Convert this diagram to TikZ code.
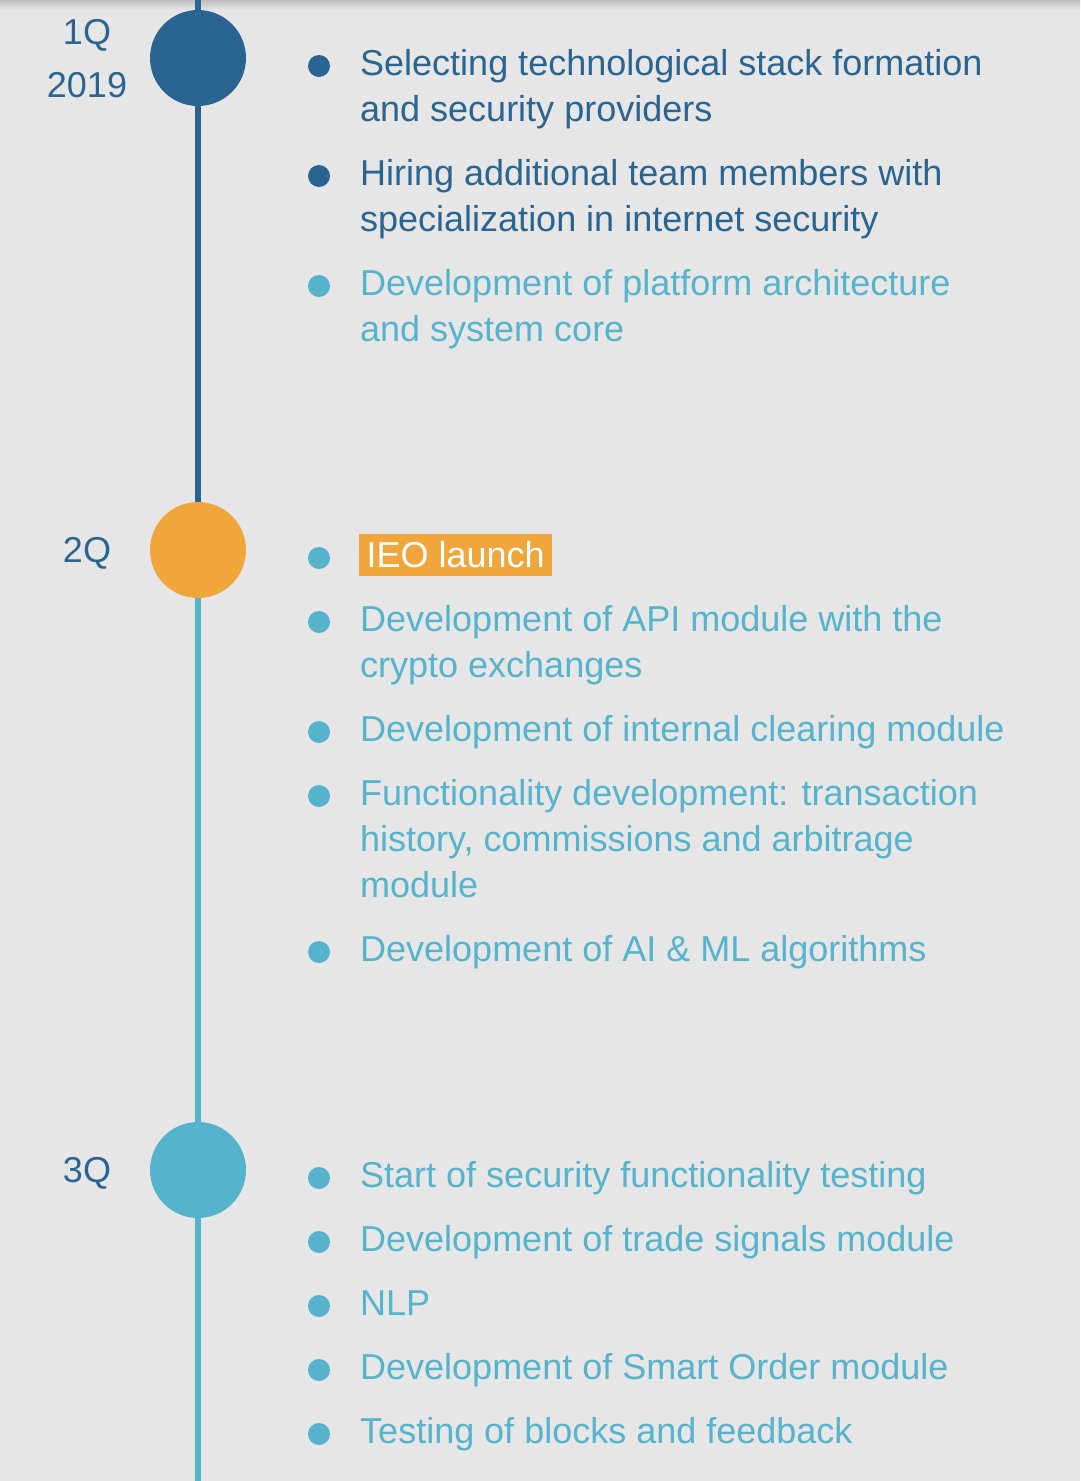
\documentclass[tikz,border=0pt]{standalone}
\usepackage{fontspec}
\setmainfont{Liberation Sans}
\definecolor{stageDark}{RGB}{42,100,144}
\definecolor{stageLight}{RGB}{85,179,203}
\definecolor{stageOrange}{RGB}{240,166,58}
\definecolor{paper}{RGB}{230,230,230}
\usetikzlibrary{positioning}
% fixed height of the first line, so that the top of a text is its first baseline minus 34pt
\newcommand{\firststrut}{\rule{0pt}{34pt}}

\begin{document}
\begin{tikzpicture}[
                x=1pt, y=-1pt,
                every node/.style={font=\fontsize{36}{46}\selectfont},
                stage/.style={circle, minimum size=96pt, inner sep=0pt},
                dot/.style={circle, minimum size=22pt, inner sep=0pt, fill=stageLight},
                item/.style={anchor=north west, align=left, inner sep=0pt, text=stageLight},
                quarter/.style={text=stageDark, align=center, font=\fontsize{36}{53}\selectfont},
                rail/.style={line width=6pt}
            ]
                % page
                \fill[paper] (0,0) rectangle (1080,1481);
                \useasboundingbox (0,0) rectangle (1080,1481);
                \shade[top color=black!18!paper, bottom color=paper] (0,0) rectangle (1080,10);

                % stages on the time line
                \coordinate (railtop) at (198,0);
                \coordinate (railbottom) at (198,1481);
                \node[stage, fill=stageDark] (stage1) at (198,58) {};
                \node[stage, fill=stageOrange] (stage2) at (198,550) {};
                \node[stage, fill=stageLight] (stage3) at (198,1170) {};
                \draw[rail, stageDark] (railtop) -- (stage1) -- (stage2);
                \draw[rail, stageLight] (stage2) -- (stage3) -- (railbottom);

                \node[quarter] (q1) at (87,59) {1Q\\2019};
                \node[quarter] (q2) at (87,553) {2Q};
                \node[quarter] (q3) at (87,1173) {3Q};

                % 1Q
                \foreach \y/\col/\txt [count=\i] in {
                    66/stageDark/{Selecting technological stack formation\\and security providers},
                    176/stageDark/{Hiring additional team members with\\specialization in internet security},
                    286/stageLight/{Development of platform architecture\\and system core}}
                {
                    \node[dot, fill=\col] (qa-dot\i) at (319,\y) {};
                    \node[item, text=\col] (qa-item\i) at (360,\y-24.5) {\firststrut\txt};
                }

                % 2Q
                \node[dot] (qb-dot0) at (319,558) {};
                \node[anchor=west, fill=stageOrange, text=white, inner sep=0pt,
                      minimum width=193pt, minimum height=42pt] (qb-item0) at (359,555) {IEO launch};
                \foreach \y/\txt [count=\i] in {
                    622/{Development of API module with the\\crypto exchanges},
                    732/{Development of internal clearing module},
                    796/{Functionality development: transaction\\history, commissions and arbitrage\\module},
                    952/{Development of AI \& ML algorithms}}
                {
                    \node[dot] (qb-dot\i) at (319,\y) {};
                    \node[item] (qb-item\i) at (360,\y-24.5) {\firststrut\txt};
                }

                % 3Q
                \foreach \y/\txt [count=\i] in {
                    1178/{Start of security functionality testing},
                    1242/{Development of trade signals module},
                    1306/{NLP},
                    1370/{Development of Smart Order module},
                    1434/{Testing of blocks and feedback}}
                {
                    \node[dot] (qc-dot\i) at (319,\y) {};
                    \node[item] (qc-item\i) at (360,\y-24.5) {\firststrut\txt};
                }
            \end{tikzpicture}
\end{document}
